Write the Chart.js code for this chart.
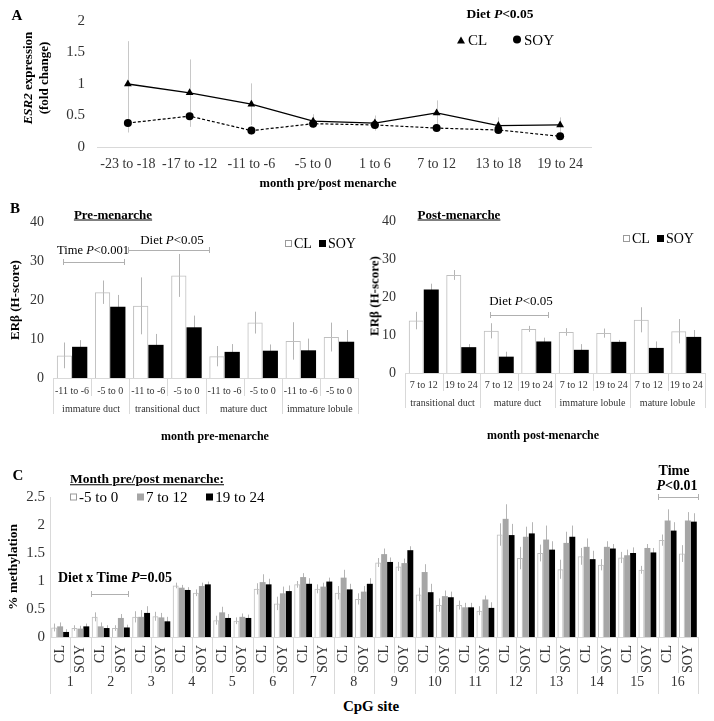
<!DOCTYPE html>
<html>
<head>
<meta charset="utf-8">
<script src="https://cdn.jsdelivr.net/npm/chart.js@4.4.0/dist/chart.umd.min.js"></script>
<style>
  body { margin: 0; background: #fff; }
  #fig { position: relative; width: 714px; height: 721px; overflow: hidden; font-family: 'Liberation Serif', serif; color: #000; }
  canvas { position: absolute; }
  .c { position: absolute; transform: translate(-50%, -50%); white-space: nowrap; line-height: 1; }
  .l { position: absolute; transform: translateY(-50%); white-space: nowrap; line-height: 1; }
  .rot { transform: translate(-50%, -50%) rotate(-90deg); }
  .b { font-weight: bold; }
  .u { text-decoration: underline; }
  .br { position: absolute; height: 6px; border-left: 1px solid #b0b0b0; border-right: 1px solid #b0b0b0; }
  .br::after { content: ''; position: absolute; left: 0; right: 0; top: 3px; border-top: 1px solid #b0b0b0; }
  .sq { display: inline-block; width: 7px; height: 7px; margin-right: 2px; vertical-align: 1px; box-sizing: border-box; }
  .sq.w { border: 1px solid #9a9a9a; background: #fff; }
  .sq.g { background: #a6a6a6; }
  .sq.k { background: #000; }
  .tri { display: inline-block; width: 0; height: 0; border-left: 4px solid transparent; border-right: 4px solid transparent; border-bottom: 7px solid #000; margin-right: 3px; vertical-align: 1px; }
  .dot { display: inline-block; width: 8px; height: 8px; border-radius: 50%; background: #000; margin-right: 3px; vertical-align: 1px; }
</style>
</head>
<body>
<div id="fig">
  <canvas id="chartA" width="600" height="200" style="left:0;top:0"></canvas>
  <canvas id="chartPre" width="360" height="226" style="left:0;top:190px"></canvas>
  <canvas id="chartPost" width="359" height="221" style="left:355px;top:190px"></canvas>
  <canvas id="chartC" width="714" height="254" style="left:0;top:440px"></canvas>

  <!-- panel A text -->
  <div class="c b" style="left:17px;top:15px;font-size:15px">A</div>
  <div class="c b rot" style="left:27px;top:78px;font-size:13px"><i>ESR2</i> expression</div>
  <div class="c b rot" style="left:43px;top:78px;font-size:13px">(fold change)</div>
  <div class="c b" style="left:500px;top:14px;font-size:13.5px">Diet <i>P</i>&lt;0.05</div>
  <div class="l" style="left:457px;top:40px;font-size:15px"><span class="tri"></span>CL</div>
  <div class="l" style="left:513px;top:40px;font-size:15px"><span class="dot"></span>SOY</div>
  <div class="c b" style="left:328px;top:183px;font-size:12.5px">month pre/post menarche</div>

  <!-- panel B text -->
  <div class="c b" style="left:15px;top:208px;font-size:15px">B</div>
  <div class="c b u" style="left:113px;top:214px;font-size:13px">Pre-menarche</div>
  <div class="c" style="left:93px;top:250px;font-size:12.5px">Time <i>P</i>&lt;0.001</div>
  <div class="br" style="left:63px;top:259px;width:60px"></div>
  <div class="c" style="left:172px;top:239px;font-size:13px">Diet <i>P</i>&lt;0.05</div>
  <div class="br" style="left:128px;top:247px;width:80px"></div>
  <div class="l" style="left:285px;top:244px;font-size:14px"><span class="sq w"></span>CL&nbsp; <span class="sq k"></span>SOY</div>
  <div class="c b rot" style="left:14px;top:300px;font-size:13px">ERβ (H-score)</div>
  <div class="c b" style="left:215px;top:436px;font-size:12px">month pre-menarche</div>

  <div class="c b u" style="left:459px;top:214px;font-size:13px">Post-menarche</div>
  <div class="l" style="left:623px;top:239px;font-size:14px"><span class="sq w"></span>CL&nbsp; <span class="sq k"></span>SOY</div>
  <div class="c" style="left:521px;top:300px;font-size:13px">Diet <i>P</i>&lt;0.05</div>
  <div class="br" style="left:490px;top:312px;width:57px"></div>
  <div class="c b rot" style="left:374px;top:296px;font-size:13px">ERβ (H-score)</div>
  <div class="c b" style="left:543px;top:435px;font-size:12px">month post-menarche</div>

  <!-- panel C text -->
  <div class="c b" style="left:18px;top:475px;font-size:15px">C</div>
  <div class="l b u" style="left:70px;top:479px;font-size:13.5px">Month pre/post menarche:</div>
  <div class="l" style="left:70px;top:497px;font-size:15px"><span class="sq w"></span>-5 to 0&nbsp;&nbsp;&nbsp;&nbsp; <span class="sq g"></span>7 to 12&nbsp;&nbsp;&nbsp;&nbsp; <span class="sq k"></span>19 to 24</div>
  <div class="c b" style="left:115px;top:578px;font-size:14px">Diet x Time <i>P</i>=0.05</div>
  <div class="br" style="left:91px;top:591px;width:36px"></div>
  <div class="c b" style="left:674px;top:471px;font-size:14px">Time</div>
  <div class="c b" style="left:677px;top:486px;font-size:14px"><i>P</i>&lt;0.01</div>
  <div class="br" style="left:658px;top:494px;width:39px"></div>
  <div class="c b rot" style="left:13px;top:567px;font-size:13.5px">% methylation</div>
  <div class="c b" style="left:371px;top:706px;font-size:15px">CpG site</div>
</div>

<script>
// Panel A: ESR2 expression
const monthsA = ['-23 to -18', '-17 to -12', '-11 to -6', '-5 to 0', '1 to 6', '7 to 12', '13 to 18', '19 to 24'];
const esrCL = [1.0, 0.86, 0.68, 0.41, 0.38, 0.54, 0.34, 0.35];
const esrCLErr = [0.68, 0.53, 0.33, 0.11, 0.12, 0.2, 0.13, 0.12];
const esrSOY = [0.38, 0.49, 0.26, 0.37, 0.35, 0.30, 0.27, 0.17];
const esrSOYErr = [0.15, 0.17, 0.07, 0.05, 0.05, 0.06, 0.05, 0.04];

// Panel B: ERβ H-score
const preAges = ['-11 to -6', '-5 to 0'];
const preTissues = ['immature duct', 'transitional duct', 'mature duct', 'immature lobule'];
const preCL = [5.8, 22, 18.5, 26.3, 5.6, 14.2, 9.5, 10.5];
const preCLErr = [3.3, 3, 7.3, 5.5, 2.6, 2.8, 4.8, 3.7];
const preSOY = [8, 18.3, 8.5, 13, 6.7, 7, 7.1, 9.3];
const preSOYErr = [1.7, 3, 2.8, 3, 2, 1.6, 3, 3];

const postAges = ['7 to 12', '19 to 24'];
const postTissues = ['transitional duct', 'mature duct', 'immature lobule', 'mature lobule'];
const postCL = [13.8, 25.8, 11.1, 11.6, 10.8, 10.5, 14, 11];
const postCLErr = [2.3, 1.3, 2, 0.8, 1, 1.2, 3.3, 3.2];
const postSOY = [22, 6.8, 4.3, 8.3, 6.1, 8.2, 6.6, 9.5];
const postSOYErr = [1.5, 0.8, 1.3, 1, 1.5, 0.5, 1.7, 1.8];

// Panel C: % methylation per CpG site (CL, SOY for each site)
const cpgSites = ['1', '2', '3', '4', '5', '6', '7', '8', '9', '10', '11', '12', '13', '14', '15', '16'];
const diets = ['CL', 'SOY'];
const meth5to0 = [0.17, 0.16, 0.36, 0.16, 0.36, 0.37, 0.92, 0.79, 0.30, 0.29, 0.86, 0.60, 0.94, 0.86, 0.79, 0.68,
                  1.33, 1.26, 0.76, 0.57, 0.57, 0.47, 1.83, 1.41, 1.50, 1.21, 1.44, 1.29, 1.42, 1.20, 1.73, 1.49];
const meth7to12 = [0.19, 0.15, 0.19, 0.34, 0.36, 0.35, 0.88, 0.91, 0.44, 0.36, 0.98, 0.78, 1.07, 0.90, 1.06, 0.81,
                   1.48, 1.32, 1.16, 0.73, 0.53, 0.67, 2.11, 1.79, 1.74, 1.68, 1.61, 1.61, 1.46, 1.59, 2.08, 2.08];
const meth19to24 = [0.09, 0.19, 0.16, 0.17, 0.43, 0.28, 0.84, 0.94, 0.34, 0.34, 0.94, 0.82, 0.95, 0.99, 0.85, 0.95,
                    1.34, 1.55, 0.80, 0.71, 0.53, 0.52, 1.82, 1.85, 1.56, 1.79, 1.39, 1.58, 1.50, 1.51, 1.90, 2.06];
const err5to0 = [0.07, 0.05, 0.08, 0.05, 0.1, 0.08, 0.05, 0.06, 0.08, 0.06, 0.1, 0.12, 0.06, 0.08, 0.12, 0.1,
                 0.08, 0.08, 0.12, 0.12, 0.08, 0.08, 0.2, 0.2, 0.15, 0.17, 0.15, 0.1, 0.1, 0.07, 0.1, 0.15];
const err7to12 = [0.07, 0.05, 0.07, 0.07, 0.12, 0.08, 0.05, 0.06, 0.1, 0.06, 0.14, 0.12, 0.07, 0.07, 0.14, 0.1,
                  0.1, 0.08, 0.14, 0.1, 0.08, 0.07, 0.26, 0.18, 0.25, 0.2, 0.15, 0.1, 0.1, 0.07, 0.2, 0.15];
const err19to24 = [0.05, 0.05, 0.05, 0.05, 0.12, 0.08, 0.05, 0.05, 0.07, 0.06, 0.1, 0.1, 0.1, 0.07, 0.1, 0.1,
                   0.08, 0.07, 0.15, 0.1, 0.08, 0.1, 0.2, 0.2, 0.15, 0.2, 0.15, 0.08, 0.1, 0.08, 0.15, 0.15];

Chart.defaults.font.family = "'Liberation Serif', serif";
Chart.defaults.color = '#333';
Chart.defaults.animation = false;

const tickFont = (size) => ({ family: "'Liberation Serif', serif", size: size });
const plainNum = (v) => String(v);

// vertical error lines, drawn under the marks
const errorBars = {
    id: 'errorBars',
    beforeDatasetsDraw(chart, args, opts) {
        const ctx = chart.ctx;
        const y = chart.scales.y;
        ctx.save();
        ctx.strokeStyle = opts.color || '#bfbfbf';
        ctx.lineWidth = 1;
        chart.data.datasets.forEach((ds, i) => {
            if (!ds.errors) return;
            chart.getDatasetMeta(i).data.forEach((el, j) => {
                const v = ds.data[j], e = ds.errors[j];
                const px = Math.round(el.x) + 0.5;
                ctx.beginPath();
                ctx.moveTo(px, y.getPixelForValue(v - e));
                ctx.lineTo(px, y.getPixelForValue(v + e));
                ctx.stroke();
            });
        });
        ctx.restore();
    }
};

// category dividers below the axis (short between items, long between groups)
const separators = {
    id: 'separators',
    afterDraw(chart, args, opts) {
        if (!opts.group) return;
        const x = chart.scales.x;
        const n = chart.data.labels.length;
        const bottom = chart.chartArea.bottom;
        const ctx = chart.ctx;
        ctx.save();
        ctx.strokeStyle = opts.color || '#d9d9d9';
        ctx.lineWidth = 1;
        for (let i = 0; i <= n; i++) {
            let px;
            if (i === 0) px = x.left;
            else if (i === n) px = x.right;
            else px = (x.getPixelForValue(i - 1) + x.getPixelForValue(i)) / 2;
            const len = i % opts.group === 0 ? opts.major : opts.minor;
            px = Math.round(px) + 0.5;
            ctx.beginPath();
            ctx.moveTo(px, bottom);
            ctx.lineTo(px, bottom + len);
            ctx.stroke();
        }
        ctx.restore();
    }
};

const noGrid = { display: false, drawTicks: false };

// Panel A
new Chart(document.getElementById('chartA'), {
    type: 'line',
    data: {
        labels: monthsA,
        datasets: [{
            label: 'CL',
            data: esrCL,
            errors: esrCLErr,
            borderColor: '#000',
            backgroundColor: '#000',
            borderWidth: 1.3,
            pointStyle: 'triangle',
            pointRadius: 4.5,
            pointBorderWidth: 0,
            pointBackgroundColor: '#000',
            tension: 0
        }, {
            label: 'SOY',
            data: esrSOY,
            errors: esrSOYErr,
            borderColor: '#000',
            backgroundColor: '#000',
            borderWidth: 1.2,
            borderDash: [3, 2],
            pointStyle: 'circle',
            pointRadius: 4,
            pointBorderWidth: 0,
            pointBackgroundColor: '#000',
            tension: 0
        }]
    },
    options: {
        responsive: false,
        layout: { padding: { left: 57, right: 9, top: 16, bottom: 0 } },
        plugins: { legend: { display: false }, tooltip: { enabled: false }, errorBars: { color: '#c8c8c8' } },
        scales: {
            x: {
                offset: true,
                grid: noGrid,
                border: { color: '#d9d9d9' },
                ticks: { font: tickFont(14), padding: 9, maxRotation: 0, autoSkip: false },
                afterFit(s) { s.height = 53; }
            },
            y: {
                min: 0, max: 2,
                ticks: { stepSize: 0.5, font: tickFont(15), padding: 12, callback: plainNum },
                grid: noGrid,
                border: { display: false },
                afterFit(s) { s.width = 40; }
            }
        }
    },
    plugins: [errorBars]
});

// Panel B (pre and post)
function barPanel(id, ages, tissues, cl, clErr, soy, soyErr, g) {
    new Chart(document.getElementById(id), {
        type: 'bar',
        data: {
            labels: tissues.flatMap(() => ages),
            datasets: [{
                label: 'CL', data: cl, errors: clErr,
                backgroundColor: 'rgba(255,255,255,0)', borderColor: '#bfbfbf', borderWidth: 1,
                categoryPercentage: 0.8, barPercentage: 1
            }, {
                label: 'SOY', data: soy, errors: soyErr,
                backgroundColor: '#000', borderWidth: 0,
                categoryPercentage: 0.8, barPercentage: 1
            }]
        },
        options: {
            responsive: false,
            layout: { padding: { left: g.left, right: g.right, top: g.top, bottom: 0 } },
            plugins: {
                legend: { display: false }, tooltip: { enabled: false },
                errorBars: { color: '#b5b5b5' },
                separators: { group: ages.length, minor: g.minor, major: g.major, color: '#d9d9d9' }
            },
            scales: {
                x: {
                    grid: noGrid,
                    border: { color: '#d9d9d9' },
                    ticks: { font: tickFont(10), padding: g.subPad, maxRotation: 0, autoSkip: false },
                    afterFit(s) { s.height = 20; }
                },
                x2: {
                    type: 'category', labels: tissues, offset: true, position: 'bottom',
                    grid: noGrid, border: { display: false },
                    ticks: { font: tickFont(10), padding: g.grpPad, maxRotation: 0, autoSkip: false },
                    afterFit(s) { s.height = 18; }
                },
                y: {
                    min: 0, max: 40,
                    ticks: { stepSize: 10, font: tickFont(14), padding: 9 },
                    grid: noGrid,
                    border: { display: false },
                    afterFit(s) { s.width = 40; }
                }
            }
        },
        plugins: [errorBars, separators]
    });
}

barPanel('chartPre', preAges, preTissues, preCL, preCLErr, preSOY, preSOYErr,
    { left: 13, right: 2, top: 32, minor: 18, major: 36, subPad: 7, grpPad: 5 });
barPanel('chartPost', postAges, postTissues, postCL, postCLErr, postSOY, postSOYErr,
    { left: 10, right: 9, top: 31, minor: 18, major: 35, subPad: 6, grpPad: 4 });

// Panel C
new Chart(document.getElementById('chartC'), {
    type: 'bar',
    data: {
        labels: cpgSites.flatMap(() => diets),
        datasets: [{
            label: '-5 to 0', data: meth5to0, errors: err5to0,
            backgroundColor: 'rgba(255,255,255,0)', borderColor: '#bfbfbf', borderWidth: 1,
            categoryPercentage: 0.88, barPercentage: 1
        }, {
            label: '7 to 12', data: meth7to12, errors: err7to12,
            backgroundColor: '#a6a6a6', borderWidth: 0,
            categoryPercentage: 0.88, barPercentage: 1
        }, {
            label: '19 to 24', data: meth19to24, errors: err19to24,
            backgroundColor: '#000', borderWidth: 0,
            categoryPercentage: 0.88, barPercentage: 1
        }]
    },
    options: {
        responsive: false,
        layout: { padding: { left: 10, right: 16, top: 57, bottom: 0 } },
        plugins: {
            legend: { display: false }, tooltip: { enabled: false },
            errorBars: { color: '#b5b5b5' },
            separators: { group: 2, minor: 36, major: 60, color: '#d9d9d9' }
        },
        scales: {
            x: {
                grid: noGrid,
                border: { color: '#d9d9d9' },
                ticks: { font: tickFont(14), padding: 8, minRotation: 90, maxRotation: 90, autoSkip: false },
                afterFit(s) { s.height = 37; }
            },
            x2: {
                type: 'category', labels: cpgSites, offset: true, position: 'bottom',
                grid: noGrid, border: { display: false },
                ticks: { font: tickFont(14), padding: 0, maxRotation: 0, autoSkip: false },
                afterFit(s) { s.height = 20; }
            },
            y: {
                min: 0, max: 2.5,
                ticks: { stepSize: 0.5, font: tickFont(15), padding: 5, callback: plainNum },
                grid: noGrid,
                border: { color: '#d9d9d9' },
                afterFit(s) { s.width = 40; }
            }
        }
    },
    plugins: [errorBars, separators]
});
</script>
</body>
</html>
